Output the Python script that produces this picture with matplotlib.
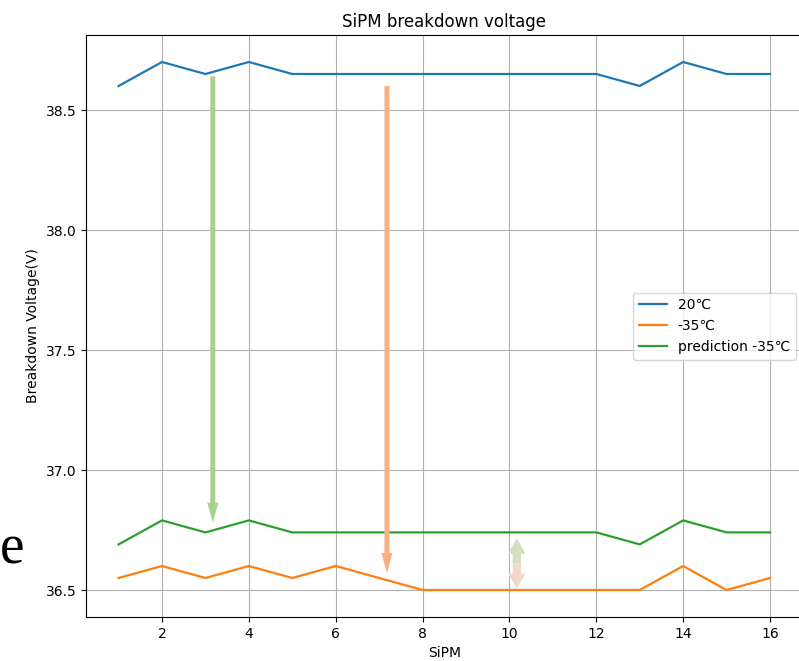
import matplotlib
matplotlib.use("Agg")
import matplotlib.pyplot as plt
import numpy as np

sipm = list(range(1, 17))
v_20 = [38.6, 38.7, 38.65, 38.7, 38.65, 38.65, 38.65, 38.65, 38.65, 38.65, 38.65, 38.65, 38.6, 38.7, 38.65, 38.65]
v_m35 = [36.55, 36.6, 36.55, 36.6, 36.55, 36.6, 36.55, 36.5, 36.5, 36.5, 36.5, 36.5, 36.5, 36.6, 36.5, 36.55]
v_pred = [36.69, 36.79, 36.74, 36.79, 36.74, 36.74, 36.74, 36.74, 36.74, 36.74, 36.74, 36.74, 36.69, 36.79, 36.74, 36.74]
labels = ["20\u2103", "-35\u2103", "prediction -35\u2103"]

# annotation arrows: (x, y_start, y_end)
green_arrow = (3.17, 38.64, 36.78)
orange_arrow = (7.18, 38.60, 36.57)
double_arrow = (10.17, 36.505, 36.715)

fig = plt.figure(figsize=(7.99, 6.61), dpi=100)
ax = fig.add_axes([86/799, 44/661, (802.6-86)/799, (617-35)/661])
ax.plot(sipm, v_20, label=labels[0], color="#1f77b4", lw=1.6)
ax.plot(sipm, v_m35, label=labels[1], color="#ff7f0e", lw=1.6)
ax.plot(sipm, v_pred, label=labels[2], color="#2ca02c", lw=1.6)
ax.grid(True)
ax.set_xticks([2, 4, 6, 8, 10, 12, 14, 16])
ax.set_yticks([36.5, 37.0, 37.5, 38.0, 38.5])
ax.set_xlim(0.25, 16.75)
ax.set_ylim(36.3875, 38.8125)
ax.set_title("SiPM breakdown voltage")
ax.set_xlabel("SiPM")
ax.set_ylabel("Breakdown Voltage(V)")
ax.legend(loc="center right", fontsize=10)

def arrow(x, y0, y1, color, tw=0.36, hw=0.8, hl=1.45):
    ax.annotate("", xy=(x, y1), xytext=(x, y0),
                arrowprops=dict(arrowstyle=f"simple,tail_width={tw},head_width={hw},head_length={hl}",
                                color=color, lw=0, mutation_scale=10,
                                shrinkA=0, shrinkB=0))

arrow(green_arrow[0], green_arrow[1], green_arrow[2], "#a9d18e")
arrow(orange_arrow[0], orange_arrow[1], orange_arrow[2], "#f4b183")
xm = double_arrow[0]
ymid = (double_arrow[1] + double_arrow[2]) / 2
arrow(xm, ymid, double_arrow[2], "#d3dfbf", tw=0.6, hw=1.25, hl=1.1)
arrow(xm, ymid, double_arrow[1], "#f2dac8", tw=0.6, hw=1.25, hl=1.1)

fig.text(0.0, 1 - 563/661, "e", fontsize=40,
         family=["Liberation Serif", "DejaVu Serif"],
         ha="left", va="baseline")

fig.savefig("out.png", dpi=100)
